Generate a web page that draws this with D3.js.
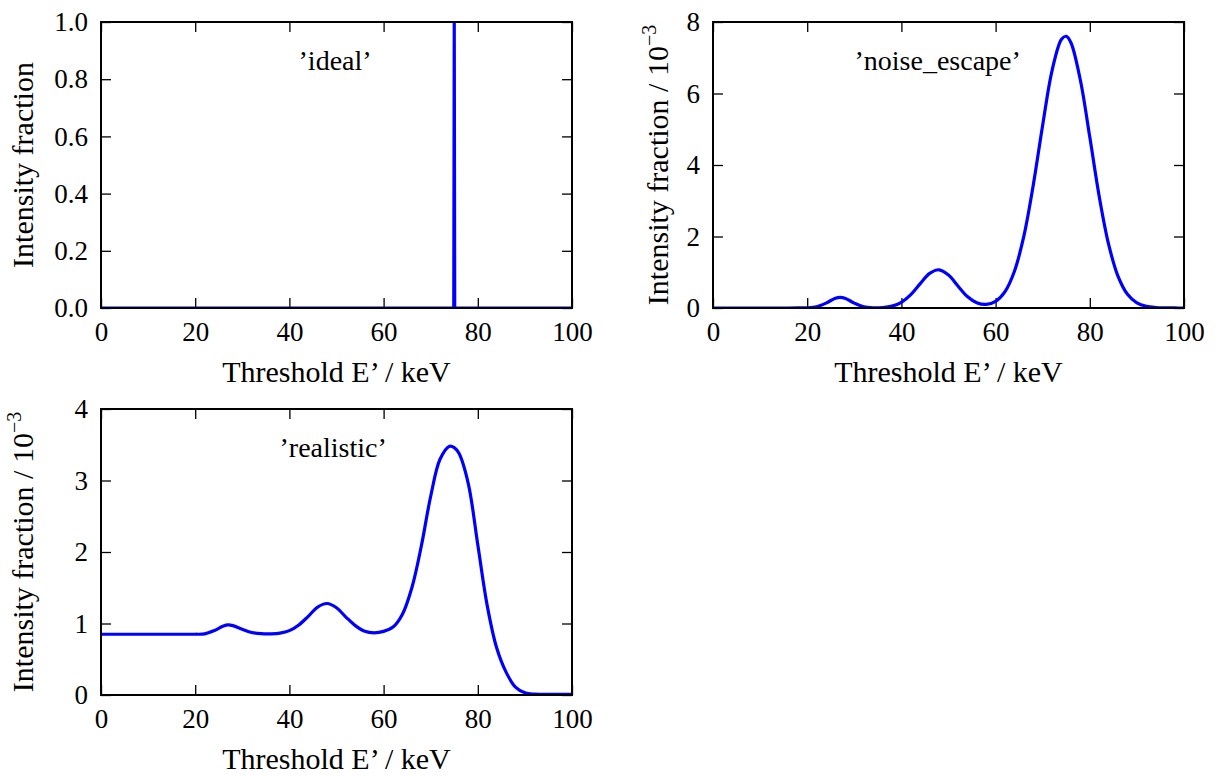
<!DOCTYPE html>
<html>
<head>
<meta charset="utf-8">
<script src="https://cdn.jsdelivr.net/npm/d3@7"></script>
<style>
  body { margin: 0; background: #fff; }
  svg text { font-family: "Liberation Serif", "DejaVu Serif", serif; fill: #000; }
</style>
</head>
<body>
<div class="chart-cont"></div>
<script>
// threshold energies (keV)
var energyIdeal = [0, 74.9, 75, 75.1, 100];
var energyGrid = [0, 2, 4, 6, 8, 10, 12, 14, 16, 18, 20, 22, 24, 26, 27, 28, 30, 32, 34, 36, 38,
    40, 42, 44, 46, 48, 50, 52, 54, 56, 58, 60, 62, 64, 66, 68, 70, 72, 74, 75, 76, 78,
    80, 82, 84, 86, 88, 90, 92, 94, 96, 98, 100];

// intensity fractions (noise_escape and realistic in units of 1e-3)
var fracIdeal = [0, 0, 1, 0, 0];
var fracNoiseEscape = [0, 0, 0, 0, 0, 0, 0, 0, 0, 0.001, 0.004, 0.034, 0.137, 0.275, 0.30, 0.275, 0.137, 0.034, 0.006, 0.014, 0.053,
    0.160, 0.374, 0.681, 0.967, 1.069, 0.920, 0.617, 0.322, 0.149, 0.102, 0.187, 0.46, 1.03, 2.01, 3.44, 5.12, 6.65, 7.52, 7.60, 7.42, 6.37,
    4.78, 3.12, 1.78, 0.885, 0.383, 0.144, 0.048, 0.014, 0.003, 0.001, 0];
var fracRealistic = [0.85, 0.85, 0.85, 0.85, 0.85, 0.85, 0.85, 0.85, 0.85, 0.85, 0.85, 0.855, 0.90, 0.965, 0.98, 0.97, 0.92, 0.875, 0.858, 0.856, 0.865,
    0.90, 0.98, 1.10, 1.23, 1.28, 1.22, 1.09, 0.97, 0.89, 0.87, 0.89, 0.95, 1.13, 1.50, 2.08, 2.78, 3.30, 3.48, 3.46, 3.38, 2.95,
    2.10, 1.25, 0.66, 0.32, 0.11, 0.03, 0.012, 0.01, 0.01, 0.01, 0.01];

var xTicks = [0, 20, 40, 60, 80, 100];
var yTicksIdeal = [0, 0.2, 0.4, 0.6, 0.8, 1.0];
var yTicksNoise = [0, 2, 4, 6, 8];
var yTicksRealistic = [0, 1, 2, 3, 4];

var panels = [
    {name: "\u2019ideal\u2019", x: energyIdeal, y: fracIdeal, ymax: 1, yticks: yTicksIdeal, fmt: d3.format(".1f"),
     scaled: false, left: 101, top: 22, w: 471, h: 286, labelX: 0.497, ylabelOff: 68},
    {name: "\u2019noise_escape\u2019", x: energyGrid, y: fracNoiseEscape, ymax: 8, yticks: yTicksNoise, fmt: d3.format("d"),
     scaled: true, left: 713, top: 22, w: 471, h: 286, labelX: 0.477, ylabelOff: 45},
    {name: "\u2019realistic\u2019", x: energyGrid, y: fracRealistic, ymax: 4, yticks: yTicksRealistic, fmt: d3.format("d"),
     scaled: true, left: 101, top: 409, w: 471, h: 286, labelX: 0.493, ylabelOff: 68}
];

var W = 1218, H = 778;
var tickFont = 27, labelFont = 30, titleFont = 28;

var svg = d3.select(".chart-cont").append("svg")
    .attr("width", W)
    .attr("height", H);

panels.forEach(function(p, i) {
    var x = d3.scaleLinear().domain([0, 100]).range([0, p.w]);
    var y = d3.scaleLinear().domain([0, p.ymax]).range([p.h, 0]);

    var g = svg.append("g").attr("transform", "translate(" + p.left + "," + p.top + ")");

    g.append("clipPath").attr("id", "clip" + i)
        .append("rect").attr("width", p.w).attr("height", p.h);

    // axes, ticks pointing inwards on all four sides
    var bottom = g.append("g").attr("transform", "translate(0," + p.h + ")")
        .call(d3.axisBottom(x).tickValues(xTicks).tickFormat(d3.format("d")).tickSizeInner(-10).tickSizeOuter(0).tickPadding(14));
    var top = g.append("g")
        .call(d3.axisTop(x).tickValues(xTicks).tickFormat("").tickSizeInner(-10).tickSizeOuter(0));
    var left = g.append("g")
        .call(d3.axisLeft(y).tickValues(p.yticks).tickFormat(p.fmt).tickSizeInner(-10).tickSizeOuter(0).tickPadding(13));
    var right = g.append("g").attr("transform", "translate(" + p.w + ",0)")
        .call(d3.axisRight(y).tickValues(p.yticks).tickFormat("").tickSizeInner(-10).tickSizeOuter(0));

    [bottom, top, left, right].forEach(function(a) {
        a.select(".domain").remove();
        a.selectAll(".tick line").attr("stroke", "#000").attr("stroke-width", 1.3);
        a.selectAll(".tick text")
            .style("font-size", tickFont + "px")
            .style("font-family", "'Liberation Serif', serif")
            .attr("fill", "#000");
    });

    var line = d3.line()
        .x(function(d) { return x(d[0]); })
        .y(function(d) { return y(d[1]); })
        .curve(p.scaled ? d3.curveCatmullRom.alpha(0.5) : d3.curveLinear);

    g.append("path")
        .datum(d3.zip(p.x, p.y))
        .attr("clip-path", "url(#clip" + i + ")")
        .attr("d", line)
        .attr("fill", "none")
        .attr("stroke", "#0000ff")
        .attr("stroke-width", 3.2)
        .attr("stroke-linejoin", "round");

    g.append("rect")
        .attr("width", p.w)
        .attr("height", p.h)
        .attr("fill", "none")
        .attr("stroke", "#000")
        .attr("stroke-width", 2);

    g.append("text")
        .attr("x", p.w * p.labelX)
        .attr("y", 48)
        .attr("text-anchor", "middle")
        .style("font-size", titleFont + "px")
        .text(p.name);

    g.append("text")
        .attr("x", p.w / 2)
        .attr("y", p.h + 74)
        .attr("text-anchor", "middle")
        .style("font-size", labelFont + "px")
        .text("Threshold E\u2019 / keV");

    var yl = g.append("text")
        .attr("transform", "translate(" + (-p.ylabelOff) + "," + (p.h / 2) + ")rotate(-90)")
        .attr("text-anchor", "middle")
        .style("font-size", labelFont + "px");
    yl.append("tspan").text(p.scaled ? "Intensity fraction / 10" : "Intensity fraction");
    if (p.scaled) {
        yl.append("tspan")
            .attr("dy", -12)
            .style("font-size", "20px")
            .text("\u22123");
    }
});
</script>
</body>
</html>
